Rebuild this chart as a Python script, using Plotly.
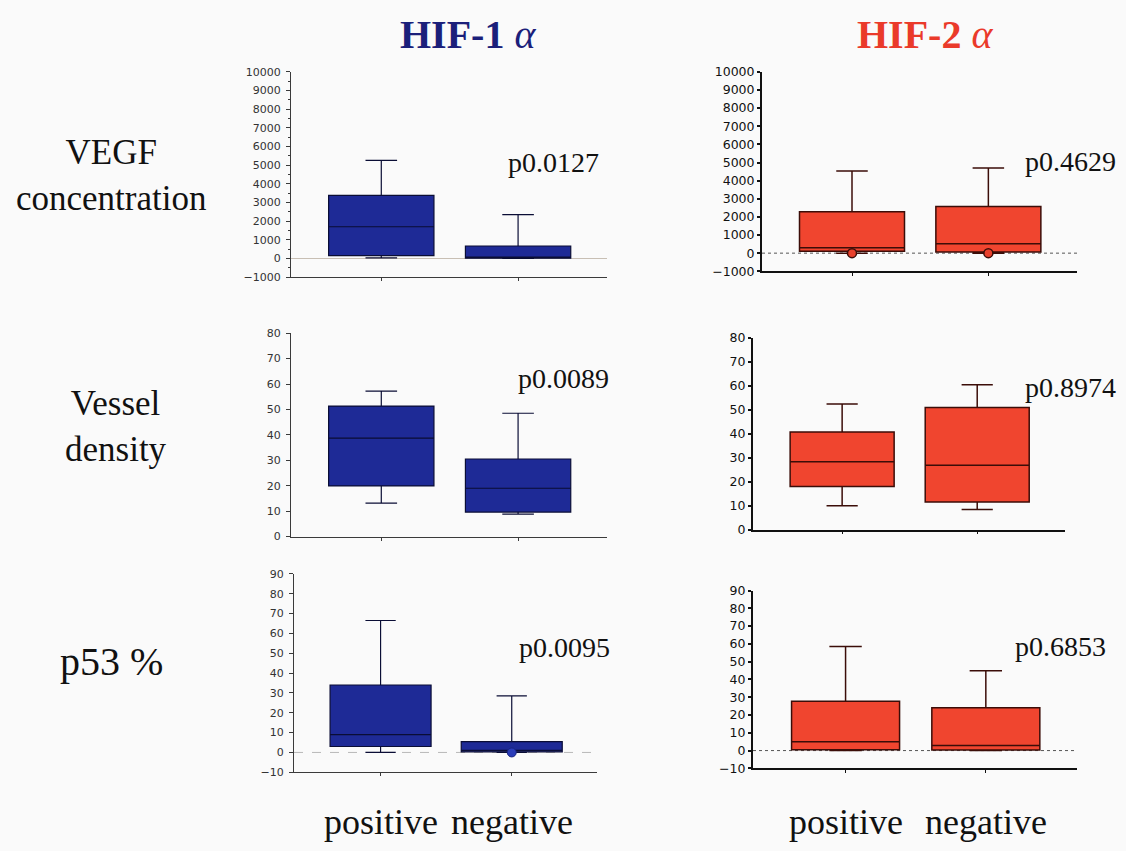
import plotly.graph_objects as go

# Groups on every panel's x axis
groups = ["positive", "negative"]

# Five-number summaries per group: [lower whisker, Q1, median, Q3, upper whisker]
vegf_hif1_positive = [30, 150, 1700, 3380, 5260]
vegf_hif1_negative = [0, 20, 60, 670, 2350]
vegf_hif2_positive = [0, 100, 300, 2290, 4525]
vegf_hif2_negative = [0, 60, 515, 2575, 4700]

vessel_hif1_positive = [13.1, 19.9, 38.7, 51.3, 57.2]
vessel_hif1_negative = [8.8, 9.6, 19.0, 30.5, 48.5]
vessel_hif2_positive = [10.0, 18.0, 28.4, 40.8, 52.5]
vessel_hif2_negative = [8.4, 11.5, 26.9, 51.0, 60.5]

p53_hif1_positive = [0, 3, 9, 34, 66.5]
p53_hif1_negative = [0, 0.3, 1, 5.5, 28.5]
p53_hif2_positive = [0, 0.5, 5.0, 27.7, 58.5]
p53_hif2_negative = [0, 0.3, 2.8, 24.1, 44.9]

# Single observations drawn as dots
vegf_hif2_dot_groups = ["positive", "negative"]
vegf_hif2_dot_values = [0, 0]
p53_hif1_dot_groups = ["negative"]
p53_hif1_dot_values = [0]

# Text
column_titles = ["<b>HIF-1</b> <i>α</i>", "<b>HIF-2</b> <i>α</i>"]
row_titles = ["VEGF<br>concentration", "Vessel<br>density", "p53 %"]
p_values = ["p0.0127", "p0.4629", "p0.0089", "p0.8974", "p0.0095", "p0.6853"]

W, H = 1126, 851
BLUE_FILL = "#1e2a96"
BLUE_LINE = "#0a0d35"
RED_FILL = "#f0452f"
RED_LINE = "#3b0d08"
SERIF = "Liberation Serif"


def px_x(v):
    return v / W


def px_y(v):
    return 1 - v / H


# Panel rectangles in pixels: (left, right, top, bottom)
panels = [
    (291, 607, 65, 274),
    (762, 1077, 65, 268),
    (291, 607, 331, 538),
    (753, 1065, 336, 531),
    (294, 597, 576, 778),
    (753, 1077, 593, 774),
]

panel_data = [
    (vegf_hif1_positive, vegf_hif1_negative),
    (vegf_hif2_positive, vegf_hif2_negative),
    (vessel_hif1_positive, vessel_hif1_negative),
    (vessel_hif2_positive, vessel_hif2_negative),
    (p53_hif1_positive, p53_hif1_negative),
    (p53_hif2_positive, p53_hif2_negative),
]

y_ranges = [(-1000, 10000), (-1000, 10000), (0, 80), (0, 80), (-10, 90), (-10, 90)]
y_dticks = [1000, 1000, 10, 10, 10, 10]

fig = go.Figure()

for i, (pos, neg) in enumerate(panel_data):
    n = i + 1
    xa = "x" if n == 1 else f"x{n}"
    ya = "y" if n == 1 else f"y{n}"
    is_red = (i % 2 == 1)
    fill = RED_FILL if is_red else BLUE_FILL
    edge = RED_LINE if is_red else BLUE_LINE
    for g, stats in zip(groups, (pos, neg)):
        fig.add_trace(go.Box(
            x=[g],
            lowerfence=[stats[0]], q1=[stats[1]], median=[stats[2]],
            q3=[stats[3]], upperfence=[stats[4]],
            width=0.77, whiskerwidth=0.3,
            fillcolor=fill,
            line=dict(color=edge, width=1.5 if is_red else 1.2),
            boxpoints=False, showlegend=False,
            xaxis=xa, yaxis=ya,
        ))

# Dots at zero
fig.add_trace(go.Scatter(
    x=vegf_hif2_dot_groups, y=vegf_hif2_dot_values, mode="markers",
    marker=dict(size=9, color="#e8402c", line=dict(color=RED_LINE, width=1.5)),
    showlegend=False, xaxis="x2", yaxis="y2",
))
fig.add_trace(go.Scatter(
    x=p53_hif1_dot_groups, y=p53_hif1_dot_values, mode="markers",
    marker=dict(size=9, color="#2a3cb8", line=dict(color="#1a2680", width=1)),
    showlegend=False, xaxis="x5", yaxis="y5",
))

layout = dict(
    width=W, height=H,
    margin=dict(l=0, r=0, t=0, b=0),
    paper_bgcolor="#fafafa",
    plot_bgcolor="#fafafa",
    showlegend=False,
    shapes=[], annotations=[],
)

for i, (l, r, t, b) in enumerate(panels):
    n = i + 1
    xk = "xaxis" if n == 1 else f"xaxis{n}"
    yk = "yaxis" if n == 1 else f"yaxis{n}"
    ya = "y" if n == 1 else f"y{n}"
    is_red = (i % 2 == 1)
    axis_col = "#111111" if is_red else "#3a3a3a"
    layout[xk] = dict(
        domain=[px_x(l), px_x(r)],
        anchor=ya,
        type="category", categoryarray=groups, categoryorder="array",
        range=[-0.66, 1.65],
        showline=True, linecolor=axis_col, linewidth=1.5 if is_red else 1,
        ticks="outside", ticklen=3, tickcolor=axis_col,
        showticklabels=False, showgrid=False, zeroline=False,
        fixedrange=True,
    )
    yax = dict(
        domain=[px_y(b), px_y(t)],
        anchor="x" if n == 1 else f"x{n}",
        range=list(y_ranges[i]), dtick=y_dticks[i], tick0=0,
        tickformat="d",
        showline=True, linecolor=axis_col, linewidth=2 if is_red else 1,
        ticks="outside", ticklen=3 if is_red else 4,
        tickwidth=1.5 if is_red else 1, tickcolor=axis_col,
        showgrid=False, zeroline=False,
        tickfont=dict(family="DejaVu Sans",
                      size=12.5 if is_red else 11,
                      color="#111111" if is_red else "#333333"),
        ticklabelstandoff=0 if is_red else 3,
        fixedrange=True,
    )
    if i == 0:
        yax["minor"] = dict(dtick=500, ticks="outside", ticklen=2,
                            tickcolor=axis_col)
    layout[yk] = yax

    # Reference line at zero
    if is_red:
        zl = dict(color="#555555", width=1, dash="dot")
    elif i == 0:
        zl = dict(color="#c8bfb4", width=1)
    else:
        zl = dict(color="#b8b8b8", width=1, dash="dash")
    if y_ranges[i][0] < 0:
        layout["shapes"].append(dict(
            type="line", xref=f"x{'' if n == 1 else n} domain", yref=ya,
            x0=0, x1=1, y0=0, y1=0, line=zl, layer="below",
        ))

# Column titles
for txt, cx, col in zip(column_titles, (468, 925), ("#1b1f7a", "#ea3a2a")):
    layout["annotations"].append(dict(
        text=txt, x=px_x(cx), y=px_y(27), xref="paper", yref="paper",
        xanchor="center", yanchor="middle", showarrow=False,
        font=dict(family=SERIF, size=40, color=col),
    ))

# Row titles
for txt, cx, cy, sz in zip(row_titles, (111, 116, 111), (170, 426, 665), (35, 35, 40)):
    layout["annotations"].append(dict(
        text=txt, x=px_x(cx), y=px_y(cy), xref="paper", yref="paper",
        xanchor="center", yanchor="middle", showarrow=False,
        font=dict(family=SERIF, size=sz, color="#111111"),
    ))

# p-values
p_pos = [(553, 157), (1070, 156), (563, 377), (1070, 386), (564, 651), (1060, 650)]
for txt, (cx, cy) in zip(p_values, p_pos):
    layout["annotations"].append(dict(
        text=txt, x=px_x(cx), y=px_y(cy), xref="paper", yref="paper",
        xanchor="center", yanchor="middle", showarrow=False,
        font=dict(family=SERIF, size=28, color="#111111"),
    ))

# Group labels under the bottom row
for xa in ("x5", "x6"):
    for k, g in enumerate(groups):
        layout["annotations"].append(dict(
            text=g, x=k, y=px_y(829), xref=xa, yref="paper",
            xanchor="center", yanchor="middle", showarrow=False,
            font=dict(family=SERIF, size=36, color="#111111"),
        ))

fig.update_layout(**layout)
fig.write_html("out.html")
